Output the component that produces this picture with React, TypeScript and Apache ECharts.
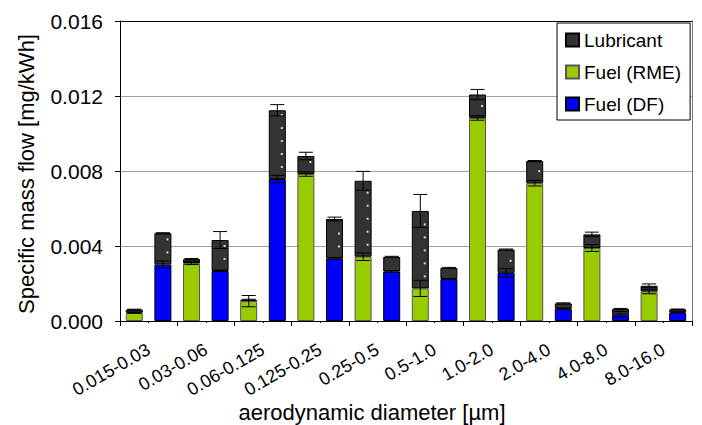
import React, { useEffect, useRef } from "react";
import * as echarts from "echarts";

const categories = [
  "0.015-0.03", "0.03-0.06", "0.06-0.125", "0.125-0.25", "0.25-0.5",
  "0.5-1.0", "1.0-2.0", "2.0-4.0", "4.0-8.0", "8.0-16.0",
];

// RME (left bar of each size class)
const rmeFuel = [0.00044, 0.00309, 0.00106, 0.00784, 0.00343, 0.00174, 0.01083, 0.00735, 0.00389, 0.00157];
const rmeFuelErr = [0.00003, 0.00008, 0.0003, 0.00012, 0.0002, 0.00043, 0.00012, 0.00015, 0.00018, 0.00012];
const rmeLub = [0.00017, 0.00021, 0.00007, 0.00096, 0.00405, 0.00413, 0.00125, 0.00118, 0.00073, 0.00031];
const rmeLubErr = [0.00002, 0.00003, 0.00003, 0.0002, 0.0005, 0.00088, 0.00027, 0.00003, 0.00012, 0.0001];

// DF (right bar of each size class)
const dfFuel = [0.00302, 0.00267, 0.00757, 0.00334, 0.00264, 0.00224, 0.00257, 0.00066, 0.00036, 0.00046];
const dfFuelErr = [0.00018, 0.00004, 0.0002, 0.00004, 0.00004, 0.00003, 0.00022, 0.00002, 0.00015, 0.00002];
const dfLub = [0.00166, 0.00165, 0.00367, 0.0021, 0.00078, 0.00059, 0.00124, 0.00028, 0.00028, 0.00016];
const dfLubErr = [0.00003, 0.00045, 0.0003, 0.0001, 0.00003, 0.00003, 0.00003, 0.00003, 0.00003, 0.00002];

const yTicks = [0, 0.004, 0.008, 0.012, 0.016];

const FONT = "Liberation Sans, Arial, sans-serif";

export default function App() {
  const ref = useRef<HTMLDivElement>(null);
  useEffect(() => {
    document.body.style.margin = "0";
    if (!ref.current) return;
    const chart = echarts.init(ref.current, undefined, { renderer: "svg" });

    const slots: string[] = [];
    const rmeData: (number | null)[] = [];
    const dfData: (number | null)[] = [];
    const lubData: number[] = [];
    const errData: number[][] = [];
    categories.forEach((c, i) => {
      slots.push(c + " RME", c + " DF");
      rmeData.push(rmeFuel[i], null);
      dfData.push(null, dfFuel[i]);
      lubData.push(rmeLub[i], dfLub[i]);
      errData.push([2 * i, rmeFuel[i], rmeFuelErr[i], rmeLub[i], rmeLubErr[i]]);
      errData.push([2 * i + 1, dfFuel[i], dfFuelErr[i], dfLub[i], dfLubErr[i]]);
    });

    const renderItem = (params: any, api: any) => {
      const x = api.value(0);
      const fuel = api.value(1);
      const fe = api.value(2);
      const lub = api.value(3);
      const le = api.value(4);
      const total = fuel + lub;
      const cx = api.coord([x, fuel])[0];
      const children: any[] = [];
      const cap = 7;
      const lineStyle = { stroke: "#000", lineWidth: 1, fill: null };
      const yb = api.coord([x, fuel])[1];
      const yt = api.coord([x, total])[1];
      for (let y = yb - 12; y > yt + 3; y -= 13) {
        children.push({
          type: "rect",
          shape: { x: cx + 3.5, y: y - 1, width: 2, height: 2 },
          style: { fill: "#d8d8d8" },
        });
      }
      const bar = (v: number, e: number) => {
        const y1 = api.coord([x, v - e])[1];
        const y2 = api.coord([x, v + e])[1];
        children.push({ type: "line", shape: { x1: cx, y1, x2: cx, y2 }, style: lineStyle });
        children.push({ type: "line", shape: { x1: cx - cap, y1, x2: cx + cap, y2: y1 }, style: lineStyle });
        children.push({ type: "line", shape: { x1: cx - cap, y1: y2, x2: cx + cap, y2 }, style: lineStyle });
      };
      bar(fuel, fe);
      bar(total, le);
      return { type: "group", children };
    };

    chart.setOption({
      animation: false,
      textStyle: { fontFamily: FONT },
      grid: { left: 120, right: 10, top: 21, bottom: 104, containLabel: false },
      legend: {
        data: ["Lubricant", "Fuel (RME)", "Fuel (DF)"],
        orient: "vertical",
        left: 557,
        top: 23,
        padding: [7, 9, 6, 8],
        itemGap: 12,
        itemWidth: 13,
        itemHeight: 13,
        icon: "rect",
        borderColor: "#000",
        borderWidth: 1,
        backgroundColor: "#fff",
        textStyle: { fontSize: 19, lineHeight: 20, color: "#000", fontFamily: FONT },
      },
      xAxis: [
        {
          type: "category",
          position: "bottom",
          data: slots,
          axisLine: { show: true, lineStyle: { color: "#000", width: 1 } },
          axisTick: { show: true, length: 2, interval: 0, lineStyle: { color: "#000" } },
          axisLabel: { show: false },
          splitLine: { show: false },
        },
        {
          type: "category",
          position: "bottom",
          data: categories,
          axisLine: { show: false },
          axisTick: { show: true, length: 5, interval: 0, lineStyle: { color: "#000" } },
          axisLabel: {
            show: true,
            interval: 0,
            rotate: 30,
            margin: 27,
            fontSize: 18,
            color: "#000",
            fontFamily: FONT,
          },
          splitLine: { show: false },
        },
        {
          type: "category",
          position: "top",
          data: categories,
          axisLine: { show: true, lineStyle: { color: "#000", width: 1 } },
          axisTick: { show: false },
          axisLabel: { show: false },
        },
      ],
      yAxis: [
        {
          type: "value",
          min: yTicks[0],
          max: yTicks[yTicks.length - 1],
          interval: 0.004,
          axisLine: { show: true, lineStyle: { color: "#000" } },
          axisTick: { show: true, length: 5, lineStyle: { color: "#000" } },
          axisLabel: {
            fontSize: 21,
            color: "#000",
            margin: 17,
            fontFamily: FONT,
            formatter: (v: number) => v.toFixed(3),
          },
          splitLine: { show: true, lineStyle: { color: "#a0a0a0", width: 1 } },
        },
        {
          type: "value",
          position: "right",
          min: 0,
          max: 0.016,
          interval: 0.004,
          axisLine: { show: true, lineStyle: { color: "#777" } },
          axisTick: { show: false },
          axisLabel: { show: false },
          splitLine: { show: false },
        },
      ],
      series: [
        {
          name: "Fuel (RME)",
          type: "bar",
          stack: "a",
          xAxisIndex: 0,
          yAxisIndex: 0,
          barWidth: 17,
          data: rmeData,
          itemStyle: { color: "#99cc00", borderColor: "#555", borderWidth: 1 },
        },
        {
          name: "Fuel (DF)",
          type: "bar",
          stack: "a",
          xAxisIndex: 0,
          yAxisIndex: 0,
          barWidth: 17,
          data: dfData,
          itemStyle: { color: "#0000ff", borderColor: "#000", borderWidth: 1 },
        },
        {
          name: "Lubricant",
          type: "bar",
          stack: "a",
          xAxisIndex: 0,
          yAxisIndex: 0,
          barWidth: 17,
          data: lubData,
          itemStyle: { color: "#333333", borderColor: "#000", borderWidth: 1 },
        },
        {
          name: "err",
          type: "custom",
          xAxisIndex: 0,
          yAxisIndex: 0,
          renderItem,
          encode: { x: 0, y: 1 },
          data: errData,
          z: 5,
          silent: true,
        },
      ],
      graphic: [
        {
          type: "text",
          x: 26,
          y: 174,
          rotation: Math.PI / 2,
          style: {
            text: "Specific mass flow [mg/kWh]",
            fontSize: 22,
            fontFamily: FONT,
            fill: "#000",
            align: "center",
            verticalAlign: "middle",
          },
        },
        {
          type: "text",
          x: 372,
          y: 412,
          style: {
            text: "aerodynamic diameter [µm]",
            fontSize: 22,
            fontFamily: FONT,
            fill: "#000",
            align: "center",
            verticalAlign: "middle",
          },
        },
      ],
    });
    return () => chart.dispose();
  }, []);
  return (
    <div
      ref={ref}
      style={{ position: "fixed", left: 0, top: 0, width: 702, height: 425, background: "#fff" }}
    />
  );
}
